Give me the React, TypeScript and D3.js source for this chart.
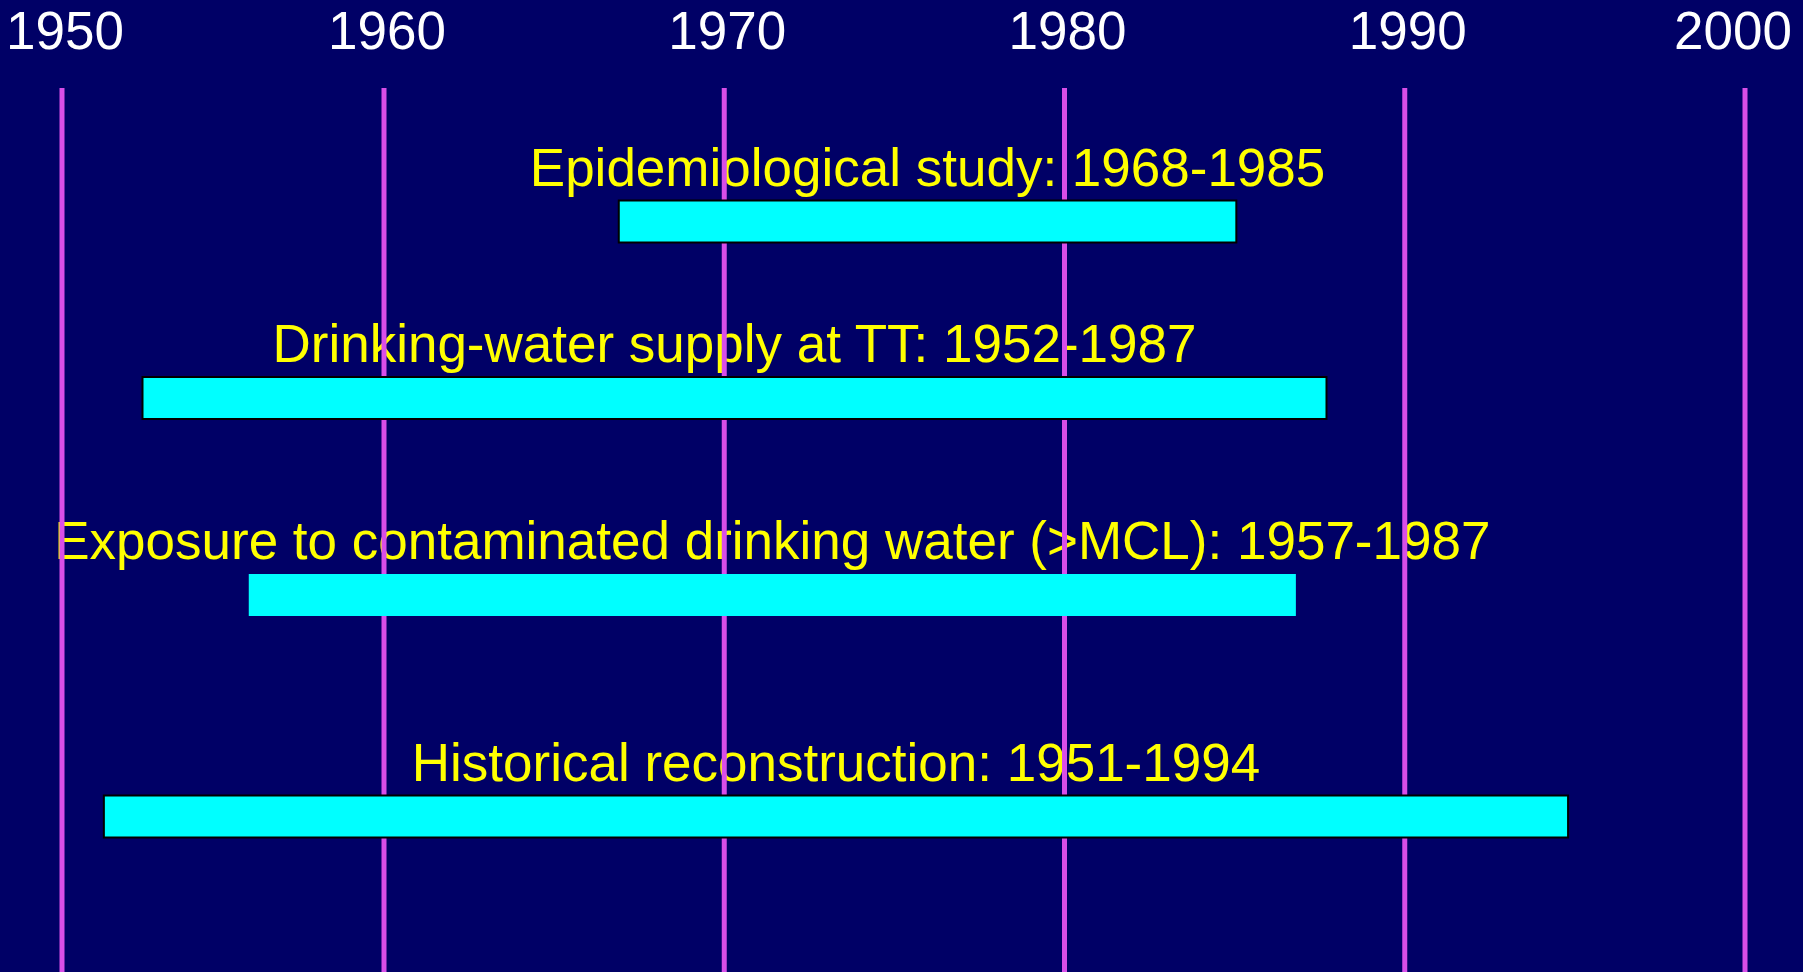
import * as d3 from "d3";
import { useEffect, useRef } from "react";

//    ---------------   DATA  ------------------------

const years = [1950, 1960, 1970, 1980, 1990, 2000];

const rows = ["epi", "water", "exposure", "histo"];
const labels = [
    "Epidemiological study: 1968-1985",
    "Drinking-water supply at TT: 1952-1987",
    "Exposure to contaminated drinking water (>MCL): 1957-1987",
    "Historical reconstruction: 1951-1994",
];
// start / end of each bar as drawn in the picture
const starts = [1966.9, 1952.5, 1955.8, 1951.3];
const ends = [1985.05, 1987.7, 1986.8, 1994.8];

export default function App() {
    const refSvg = useRef<SVGSVGElement>(null);

    useEffect(() => {
        document.body.style.margin = "0";

        let svgWidth = 1803;
        let svgHeight = 972;
        let svg = d3.select(refSvg.current);
        svg.selectAll("*").remove();

        svg.append("rect")
            .attr("width", svgWidth)
            .attr("height", svgHeight)
            .attr("fill", "#000066");

        // the 1950 decade is a bit narrower than the rest on the slide
        let X = d3.scaleLinear()
            .domain([1950, 1960, 2000])
            .range([62, 384, 1745]);

        let Y = d3.scaleOrdinal<string, number>()
            .domain(rows)
            .range([221.5, 398, 595, 816.5]);

        let barH = 42;

        let data = rows.map((r, i) => ({ row: r, label: labels[i], start: starts[i], end: ends[i] }));

        //    ---------------   YEAR LABELS  ------------------------

        // keep the last label inside the slide
        let maxLabelX = svgWidth - 70;

        svg.append("g")
            .selectAll("text")
            .data(years)
            .join("text")
            .attr("x", (d) => Math.min(X(d) + 3, maxLabelX))
            .attr("y", 49)
            .attr("text-anchor", "middle")
            .attr("fill", "#ffffff")
            .attr("font-size", 53)
            .attr("font-family", "'Liberation Sans', Arial, sans-serif")
            .text((d) => d);

        //    ---------------   ROW LABELS  ------------------------

        svg.append("g")
            .selectAll("text")
            .data(data)
            .join("text")
            .attr("x", (d) => (X(d.start) + X(d.end)) / 2)
            .attr("y", (d) => Y(d.row) - barH / 2 - 15)
            .attr("text-anchor", "middle")
            .attr("fill", "#ffff00")
            .attr("font-size", 53)
            .attr("font-family", "'Liberation Sans', Arial, sans-serif")
            .text((d) => d.label);

        //    ---------------   GRID  ------------------------

        svg.append("g")
            .selectAll("line")
            .data(years)
            .join("line")
            .attr("x1", (d) => X(d))
            .attr("x2", (d) => X(d))
            .attr("y1", 88)
            .attr("y2", svgHeight)
            .attr("stroke", "#d94ee8")
            .attr("stroke-width", 5);

        //    ---------------   BARS  ------------------------

        svg.append("g")
            .selectAll("rect")
            .data(data)
            .join("rect")
            .attr("x", (d) => X(d.start))
            .attr("y", (d) => Y(d.row) - barH / 2)
            .attr("width", (d) => X(d.end) - X(d.start))
            .attr("height", barH)
            .attr("fill", "#00ffff")
            .attr("stroke", (d, i) => (i === 2 ? "none" : "#000000"))
            .attr("stroke-width", 2);
    }, []);

    return (
        <svg
            ref={refSvg}
            width={1803}
            height={972}
            style={{ display: "block" }}
        ></svg>
    );
}
